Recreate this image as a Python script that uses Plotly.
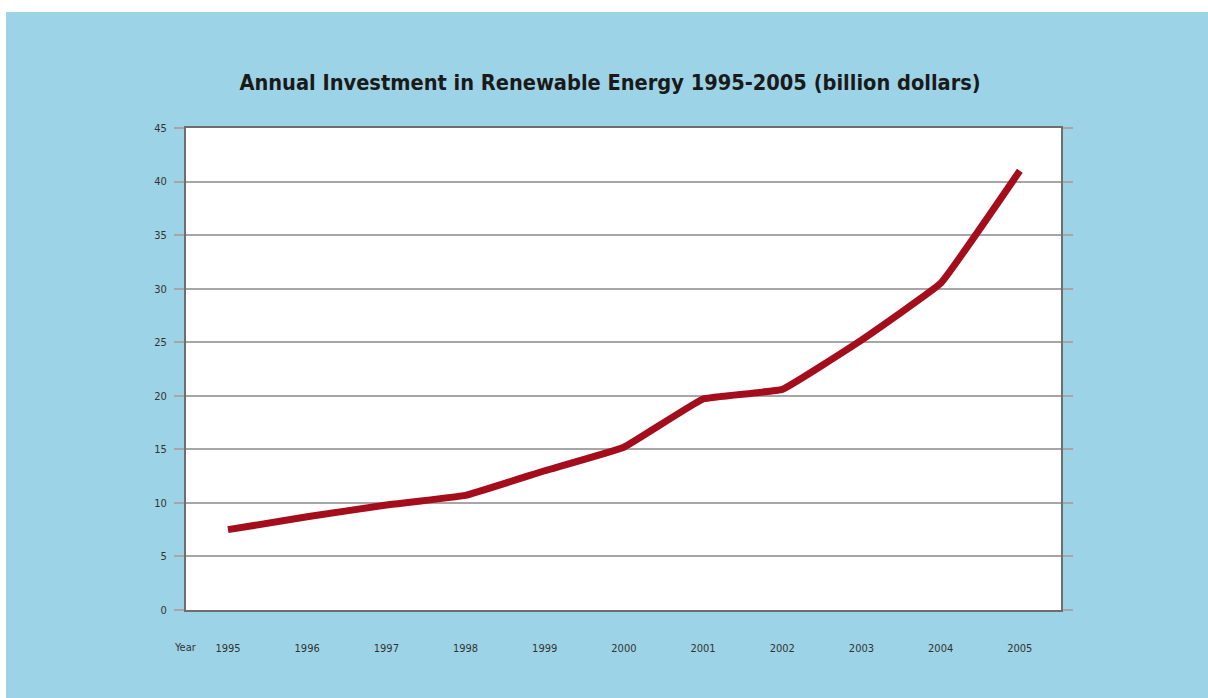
import plotly.graph_objects as go

years = [1995, 1996, 1997, 1998, 1999, 2000, 2001, 2002, 2003, 2004, 2005]
investment = [7.5, 8.7, 9.8, 10.7, 13.0, 15.2, 19.7, 20.6, 25.2, 30.5, 41.0]
y_ticks = [0, 5, 10, 15, 20, 25, 30, 35, 40, 45]
title_text = "Annual Investment in Renewable Energy 1995-2005 (billion dollars)"

BG = "#9dd3e6"
LINE = "#a30d1c"
GRID = "#a6a6a6"
FONT_NARROW = "Liberation Sans Narrow, DejaVu Sans Condensed, Arial Narrow, sans-serif"
TICK_FONT = dict(family=FONT_NARROW, size=11, color="#333333")

PW, PH = 875, 482  # plot area size in px

fig = go.Figure()
fig.add_trace(go.Scatter(
    x=years, y=investment, mode="lines",
    line=dict(color=LINE, width=7, shape="spline", smoothing=0.25),
    hoverinfo="x+y", showlegend=False,
))

fig.update_layout(
    width=1208, height=698,
    paper_bgcolor=BG,
    plot_bgcolor="white",
    margin=dict(l=186, r=147, t=128, b=88),
    title=dict(text="<b>" + title_text + "</b>", x=0.505, xanchor="center",
               y=1 - 82 / 698, yanchor="middle",
               font=dict(family=FONT_NARROW, size=21.6, color="#1a1a1a")),
    shapes=[
        dict(type="rect", xref="paper", yref="paper",
             x0=-186 / PW, x1=1 + 147 / PW, y0=1 + 116 / PH, y1=1 + 128 / PH,
             fillcolor="white", line=dict(width=0), layer="below"),
        dict(type="rect", xref="paper", yref="paper",
             x0=-186 / PW, x1=-180 / PW, y0=-88 / PH, y1=1 + 128 / PH,
             fillcolor="white", line=dict(width=0), layer="below"),
    ],
    xaxis=dict(range=[1994.47, 2005.52], tickmode="array", tickvals=years,
               ticktext=[str(y) for y in years], showgrid=False, zeroline=False,
               ticks="", ticklabelstandoff=27, tickfont=TICK_FONT,
               showline=True, linecolor="#6e6e6e", linewidth=2, mirror=True),
    yaxis=dict(range=[0, 45], tickmode="array", tickvals=y_ticks,
               showgrid=True, gridcolor=GRID, gridwidth=2, zeroline=False,
               ticks="outside", ticklen=10, tickcolor=GRID, tickwidth=2,
               ticklabelstandoff=5, tickfont=TICK_FONT,
               showline=True, linecolor="#6e6e6e", linewidth=2, mirror="ticks"),
    annotations=[dict(text="Year", xref="paper", yref="paper",
                      x=-1 / PW, y=-37 / PH, xanchor="center", yanchor="middle",
                      showarrow=False, font=TICK_FONT)],
)

fig.write_html("out.html")
